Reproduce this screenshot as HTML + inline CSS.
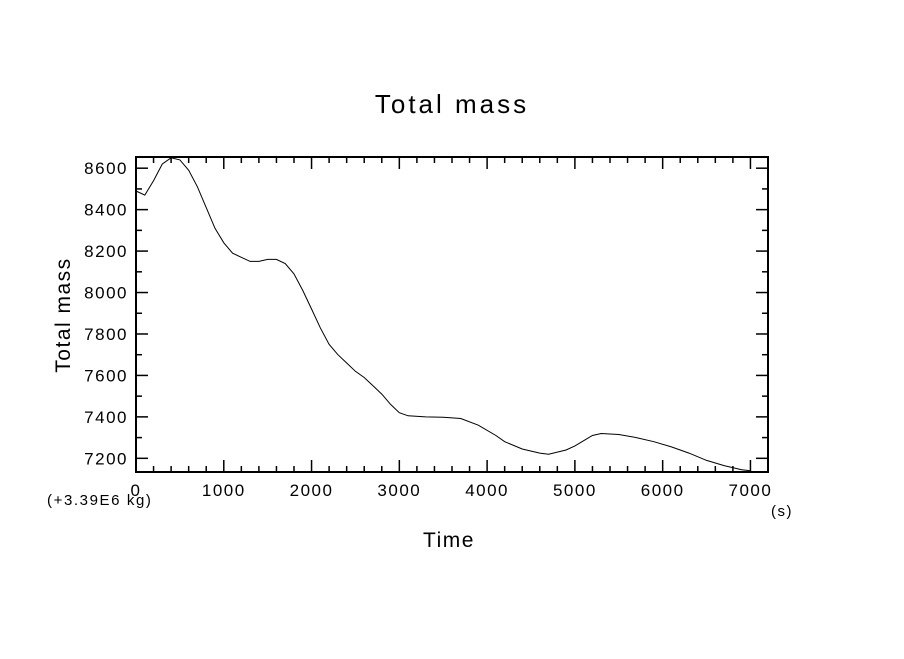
<!DOCTYPE html>
<html><head><meta charset="utf-8"><style>
body{margin:0;background:#fff}
svg text{font-family:"Liberation Sans",sans-serif;fill:#000}
</style></head><body>
<svg id="chart" width="904" height="654" viewBox="0 0 904 654">
<rect width="904" height="654" fill="#fff"/>
<text x="452" y="113" font-size="26" letter-spacing="3" text-anchor="middle">Total mass</text>
<text x="449" y="547" font-size="21" letter-spacing="1.5" text-anchor="middle">Time</text>
<text transform="translate(70,315) rotate(-90)" font-size="21" letter-spacing="1.5" text-anchor="middle">Total mass</text>
<text x="47" y="505" font-size="15" letter-spacing="1.6">(+3.39E6 kg)</text>
<text x="771" y="516" font-size="15" letter-spacing="1.5">(s)</text>
<g id="ticks"></g>
<path id="line" fill="none" stroke="#000" stroke-width="1"/>
<rect x="136" y="157" width="632" height="315" fill="none" stroke="#000" stroke-width="2"/>
</svg>
<script>
const times=[0,100,200,300,400,500,600,700,800,900,1000,1100,1200,1300,1400,1500,1600,1700,1800,1900,2000,2100,2200,2300,2400,2500,2600,2700,2800,2900,3000,3100,3300,3500,3700,3900,4100,4200,4400,4600,4700,4900,5000,5100,5200,5300,5500,5700,5900,6100,6300,6500,6700,6900,7000];
const masses=[8490,8470,8540,8620,8650,8640,8590,8510,8410,8310,8240,8190,8170,8150,8150,8160,8160,8140,8090,8010,7920,7830,7750,7700,7660,7620,7590,7550,7510,7460,7420,7405,7400,7398,7392,7360,7310,7280,7245,7225,7220,7240,7260,7285,7310,7320,7315,7300,7280,7255,7225,7190,7165,7145,7140];
const xTicks=[0,1000,2000,3000,4000,5000,6000,7000];
const yTicks=[7200,7400,7600,7800,8000,8200,8400,8600];
const X0=136,X1=768,Y0=472,Y1=157,xMin=0,xMax=7200,yMin=7134,yMax=8654;
const xs=v=>X0+(v-xMin)/(xMax-xMin)*(X1-X0);
const ys=v=>Y0-(v-yMin)/(yMax-yMin)*(Y0-Y1);
const ns="http://www.w3.org/2000/svg";
const g=document.getElementById('ticks');
function ln(x1,y1,x2,y2){const l=document.createElementNS(ns,'line');l.setAttribute('x1',x1);l.setAttribute('y1',y1);l.setAttribute('x2',x2);l.setAttribute('y2',y2);l.setAttribute('stroke','#000');l.setAttribute('stroke-width','1.5');


g.appendChild(l);}
for(let v=0;v<=xMax;v+=200){const x=xs(v),L=(v%1000===0)?12:6;ln(x,Y0,x,Y0-L);ln(x,Y1,x,Y1+L);}
for(let v=7200;v<=yMax;v+=100){const y=ys(v),L=(v%200===0)?12:6;ln(X0,y,X0+L,y);ln(X1,y,X1-L,y);}
xTicks.forEach(v=>{const t=document.createElementNS(ns,'text');t.setAttribute('x',xs(v));t.setAttribute('y',Y0+24);t.setAttribute('font-size','17');t.setAttribute('letter-spacing','1.5');t.setAttribute('text-anchor','middle');t.textContent=v;


g.appendChild(t);});
yTicks.forEach(v=>{const t=document.createElementNS(ns,'text');t.setAttribute('x',X0-8);t.setAttribute('y',ys(v)+6);t.setAttribute('font-size','17');t.setAttribute('letter-spacing','1.5');t.setAttribute('text-anchor','end');t.textContent=v;


g.appendChild(t);});
document.getElementById('line').setAttribute('d',times.map((t,i)=>(i?'L':'M')+xs(t).toFixed(1)+','+ys(masses[i]).toFixed(1)).join(''));
</script>
</body></html>
